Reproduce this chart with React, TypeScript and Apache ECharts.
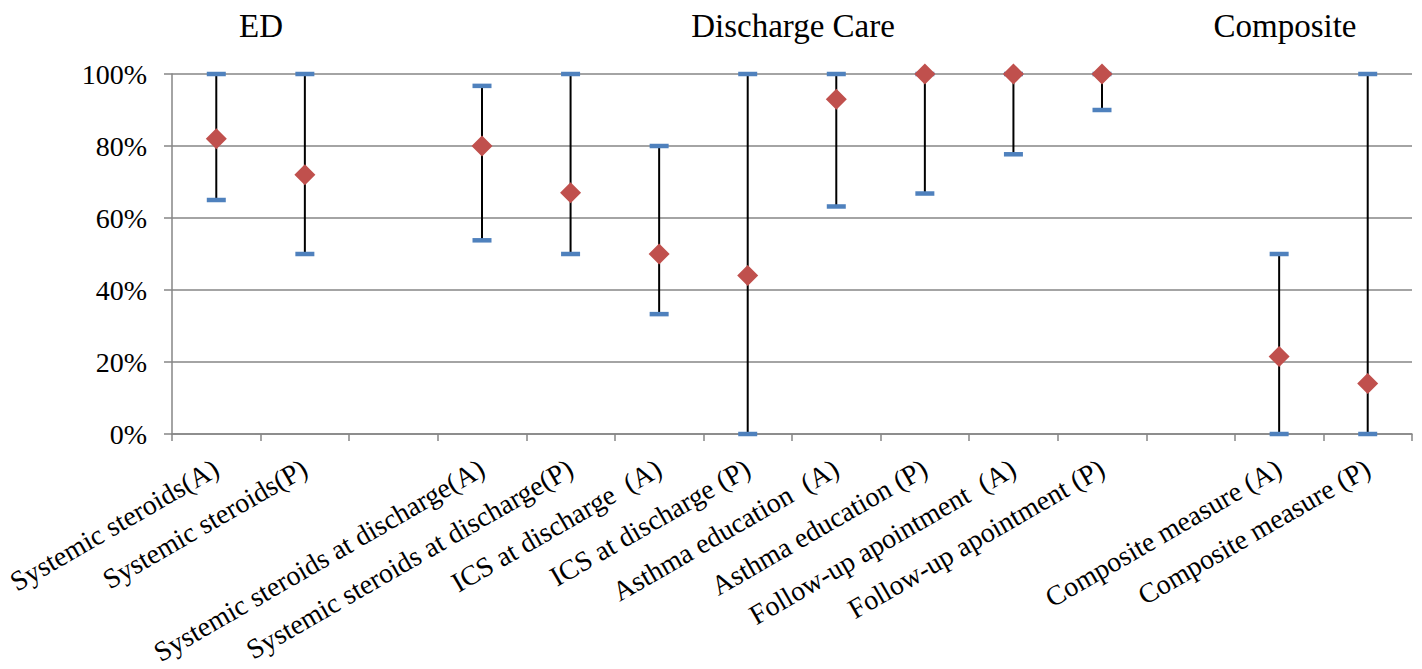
import React, { useEffect, useRef } from "react";
import * as echarts from "echarts";

const categories = [
  "Systemic steroids(A)",
  "Systemic steroids(P)",
  "",
  "Systemic steroids at discharge(A)",
  "Systemic steroids at discharge(P)",
  "ICS at discharge  (A)",
  "ICS at discharge (P)",
  "Asthma education  (A)",
  "Asthma education (P)",
  "Follow-up apointment  (A)",
  "Follow-up apointment (P)",
  "",
  "Composite measure (A)",
  "Composite measure (P)",
];

const pointValues: (number | null)[] = [82, 72, null, 80, 67, 50, 44, 93, 100, 100, 100, null, 21.5, 14];
const highValues: (number | null)[] = [100, 100, null, 96.7, 100, 80, 100, 100, 100, 100, 100, null, 50, 100];
const lowValues: (number | null)[] = [65, 50, null, 53.8, 50, 33.3, 0, 63.2, 66.8, 77.7, 90, null, 0, 0];

const yTicks = [0, 20, 40, 60, 80, 100];

const groupTitles = ["ED", "Discharge Care", "Composite"];
const groupTitleCenters = [261, 793, 1285];

const FONT = "'Liberation Serif', 'Times New Roman', serif";
const GRID_COLOR = "#868686";

export default function App() {
  const ref = useRef<HTMLDivElement>(null);

  useEffect(() => {
    if (!ref.current) return;
    const chart = echarts.init(ref.current, null, { renderer: "svg" });

    const barData = categories
      .map((_, i) => (lowValues[i] == null ? null : [i, lowValues[i], highValues[i]]))
      .filter((d) => d !== null);

    const scatterData = pointValues.map((v, i) => (v == null ? [i, "-"] : [i, v]));

    const option: any = {
      animation: false,
      backgroundColor: "#ffffff",
      textStyle: { fontFamily: FONT },
      grid: { left: 172, right: 10, top: 74, bottom: 235, containLabel: false },
      graphic: groupTitles.map((t, i) => ({
        type: "text",
        x: groupTitleCenters[i],
        y: 26,
        style: {
          text: t,
          fill: "#000",
          font: `33px ${FONT}`,
          textAlign: "center",
          textVerticalAlign: "middle",
        },
      })),
      xAxis: {
        type: "category",
        data: categories,
        boundaryGap: true,
        axisLine: { show: true, lineStyle: { color: GRID_COLOR, width: 1.5 } },
        axisTick: { show: true, interval: 0, length: 7, lineStyle: { color: GRID_COLOR, width: 1.5 } },
        axisLabel: {
          interval: 0,
          rotate: 30,
          margin: 32,
          color: "#000",
          fontSize: 28,
          fontFamily: FONT,
        },
        splitLine: { show: false },
      },
      yAxis: {
        type: "value",
        min: 0,
        max: 100,
        interval: 20,
        axisLine: { show: true, lineStyle: { color: GRID_COLOR, width: 1.5 } },
        axisTick: { show: true, length: 8, lineStyle: { color: GRID_COLOR, width: 1.5 } },
        axisLabel: {
          color: "#000",
          fontSize: 28,
          fontFamily: FONT,
          margin: 25,
          formatter: (v: number) => (yTicks.includes(v) ? `${v}%` : ""),
        },
        splitLine: { show: true, lineStyle: { color: GRID_COLOR, width: 1.5 } },
      },
      series: [
        {
          type: "custom",
          data: barData,
          encode: { x: 0, y: [1, 2] },
          z: 2,
          renderItem: (params: any, api: any) => {
            const xi = api.value(0);
            const lo = api.coord([xi, api.value(1)]);
            const hi = api.coord([xi, api.value(2)]);
            const capW = 19;
            const capH = 4.5;
            return {
              type: "group",
              children: [
                {
                  type: "line",
                  shape: { x1: lo[0], y1: lo[1], x2: hi[0], y2: hi[1] },
                  style: { stroke: "#000", lineWidth: 2 },
                },
                {
                  type: "rect",
                  shape: { x: hi[0] - capW / 2, y: hi[1] - capH / 2, width: capW, height: capH },
                  style: { fill: "#4F81BD" },
                },
                {
                  type: "rect",
                  shape: { x: lo[0] - capW / 2, y: lo[1] - capH / 2, width: capW, height: capH },
                  style: { fill: "#4F81BD" },
                },
              ],
            };
          },
        },
        {
          type: "scatter",
          data: scatterData,
          symbol: "diamond",
          symbolSize: 21,
          z: 3,
          itemStyle: { color: "#C0504D", opacity: 1 },
        },
      ],
    };

    chart.setOption(option);
    return () => chart.dispose();
  }, []);

  return (
    <div
      ref={ref}
      style={{ position: "absolute", left: 0, top: 0, width: 1422, height: 669, background: "#fff" }}
    />
  );
}
